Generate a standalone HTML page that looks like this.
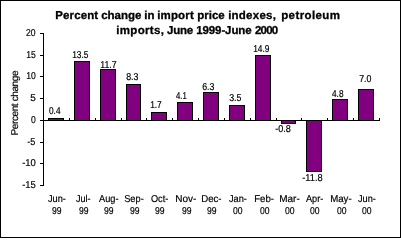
<!DOCTYPE html>
<html><head><meta charset="utf-8"><style>
html,body{margin:0;padding:0;background:#fff;width:401px;height:238px;overflow:hidden}
svg{display:block}
text{text-rendering:geometricPrecision;will-change:transform;font-family:"Liberation Sans",sans-serif;fill:#000}
.t{font-size:10px;stroke:#000;stroke-width:0.2px}
.ti{font-size:11.5px;font-weight:bold;stroke:#000;stroke-width:0.3px}
.ty{font-size:10px;stroke:#000;stroke-width:0.2px}
</style></head><body>
<svg width="401" height="238" viewBox="0 0 401 238" shape-rendering="crispEdges">
<rect x="0.5" y="0.5" width="400" height="237" fill="#fff" stroke="#000"/>
<rect x="48.5" y="118.5" width="15" height="2" fill="#800080" stroke="#000"/>
<rect x="74.5" y="61.5" width="15" height="59" fill="#800080" stroke="#000"/>
<rect x="100.5" y="69.5" width="15" height="51" fill="#800080" stroke="#000"/>
<rect x="126.5" y="84.5" width="14" height="36" fill="#800080" stroke="#000"/>
<rect x="151.5" y="112.5" width="15" height="8" fill="#800080" stroke="#000"/>
<rect x="177.5" y="102.5" width="15" height="18" fill="#800080" stroke="#000"/>
<rect x="203.5" y="92.5" width="15" height="28" fill="#800080" stroke="#000"/>
<rect x="229.5" y="105.5" width="15" height="15" fill="#800080" stroke="#000"/>
<rect x="255.5" y="55.5" width="15" height="65" fill="#800080" stroke="#000"/>
<rect x="281.5" y="120.5" width="14" height="3" fill="#800080" stroke="#000"/>
<rect x="306.5" y="120.5" width="15" height="51" fill="#800080" stroke="#000"/>
<rect x="332.5" y="99.5" width="15" height="21" fill="#800080" stroke="#000"/>
<rect x="358.5" y="89.5" width="15" height="31" fill="#800080" stroke="#000"/>
<path d="M43.5 33V186M40 33.5H44M40 55.5H44M40 76.5H44M40 98.5H44M40 120.5H379.5M40 142.5H44M40 163.5H44M40 185.5H44" stroke="#000" fill="none"/>
<path d="M69.5 118V120M95.5 118V120M121.5 118V120M146.5 118V120M172.5 118V120M198.5 118V120M224.5 118V120M250.5 118V120M276.5 118V120M301.5 118V120M327.5 118V120M353.5 118V120M379.5 118V120" stroke="#000" fill="none"/>
<text id="t1_0" x="55.20" y="19.00" class="ti" textLength="42.99" lengthAdjust="spacing">Percent</text>
<text id="t1_1" x="101.20" y="19.00" class="ti" textLength="40.27" lengthAdjust="spacing">change</text>
<text id="t1_2" x="144.20" y="19.00" class="ti" textLength="10.23" lengthAdjust="spacing">in</text>
<text id="t1_3" x="157.20" y="19.00" class="ti" textLength="36.58" lengthAdjust="spacing">import</text>
<text id="t1_4" x="197.20" y="19.00" class="ti" textLength="27.50" lengthAdjust="spacing">price</text>
<text id="t1_5" x="228.20" y="19.00" class="ti" textLength="47.63" lengthAdjust="spacing">indexes,</text>
<text id="t1_6" x="281.20" y="19.00" class="ti" textLength="58.79" lengthAdjust="spacing">petroleum</text>
<text id="t2_0" x="116.20" y="34.00" class="ti" textLength="47.77" lengthAdjust="spacing">imports,</text>
<text id="t2_1" x="167.00" y="34.00" class="ti" textLength="26.04" lengthAdjust="spacing">June</text>
<text id="t2_2" x="196.20" y="34.00" class="ti" textLength="55.47" lengthAdjust="spacing">1999-June</text>
<text id="t2_3" x="255.00" y="34.00" class="ti" textLength="23.19" lengthAdjust="spacing">2000</text>
<text id="y20" x="26.00" y="36.00" class="t" textLength="9.53" lengthAdjust="spacingAndGlyphs">20</text>
<text id="y15" x="26.20" y="58.00" class="t" textLength="9.53" lengthAdjust="spacingAndGlyphs">15</text>
<text id="y10" x="26.20" y="79.00" class="t" textLength="9.53" lengthAdjust="spacingAndGlyphs">10</text>
<text id="y5" x="30.20" y="101.00" class="t" textLength="5.56" lengthAdjust="spacingAndGlyphs">5</text>
<text id="y0" x="31.00" y="123.00" class="t" textLength="4.76" lengthAdjust="spacingAndGlyphs">0</text>
<text id="y-5" x="27.20" y="145.00" class="t" textLength="8.11" lengthAdjust="spacingAndGlyphs">-5</text>
<text id="y-10" x="22.20" y="166.00" class="t" textLength="13.65" lengthAdjust="spacingAndGlyphs">-10</text>
<text id="y-15" x="22.20" y="188.00" class="t" textLength="13.65" lengthAdjust="spacingAndGlyphs">-15</text>
<text id="d0.4" x="49.00" y="114.00" class="t" textLength="11.51" lengthAdjust="spacingAndGlyphs">0.4</text>
<text id="d13.5" x="72.20" y="58.00" class="t" textLength="16.27" lengthAdjust="spacingAndGlyphs">13.5</text>
<text id="d11.7" x="100.20" y="68.00" class="t" textLength="16.33" lengthAdjust="spacingAndGlyphs">11.7</text>
<text id="d8.3" x="126.20" y="80.00" class="t" textLength="12.31" lengthAdjust="spacingAndGlyphs">8.3</text>
<text id="d1.7" x="150.20" y="108.00" class="t" textLength="11.51" lengthAdjust="spacingAndGlyphs">1.7</text>
<text id="d4.1" x="176.00" y="99.00" class="t" textLength="10.71" lengthAdjust="spacingAndGlyphs">4.1</text>
<text id="d6.3" x="202.20" y="90.00" class="t" textLength="12.31" lengthAdjust="spacingAndGlyphs">6.3</text>
<text id="d3.5" x="229.20" y="101.00" class="t" textLength="12.31" lengthAdjust="spacingAndGlyphs">3.5</text>
<text id="d14.9" x="253.20" y="52.00" class="t" textLength="16.27" lengthAdjust="spacingAndGlyphs">14.9</text>
<text id="d-0.8" x="275.20" y="132.00" class="t" textLength="15.63" lengthAdjust="spacingAndGlyphs">-0.8</text>
<text id="d-11.8" x="302.20" y="181.00" class="t" textLength="20.46" lengthAdjust="spacingAndGlyphs">-11.8</text>
<text id="d4.8" x="332.00" y="97.00" class="t" textLength="11.51" lengthAdjust="spacingAndGlyphs">4.8</text>
<text id="d7.0" x="359.20" y="82.00" class="t" textLength="12.31" lengthAdjust="spacingAndGlyphs">7.0</text>
<text id="c1_0" x="48.00" y="202.00" class="t" textLength="17.85" lengthAdjust="spacingAndGlyphs">Jun-</text>
<text id="c2_0" x="52.00" y="214.00" class="t" textLength="9.53" lengthAdjust="spacingAndGlyphs">99</text>
<text id="c1_1" x="76.00" y="202.00" class="t" textLength="14.53" lengthAdjust="spacingAndGlyphs">Jul-</text>
<text id="c2_1" x="79.00" y="214.00" class="t" textLength="9.53" lengthAdjust="spacingAndGlyphs">99</text>
<text id="c1_2" x="99.00" y="202.00" class="t" textLength="19.52" lengthAdjust="spacingAndGlyphs">Aug-</text>
<text id="c2_2" x="104.00" y="214.00" class="t" textLength="9.53" lengthAdjust="spacingAndGlyphs">99</text>
<text id="c1_3" x="124.20" y="202.00" class="t" textLength="19.52" lengthAdjust="spacingAndGlyphs">Sep-</text>
<text id="c2_3" x="130.00" y="214.00" class="t" textLength="9.53" lengthAdjust="spacingAndGlyphs">99</text>
<text id="c1_4" x="151.00" y="202.00" class="t" textLength="17.29" lengthAdjust="spacingAndGlyphs">Oct-</text>
<text id="c2_4" x="155.00" y="214.00" class="t" textLength="9.53" lengthAdjust="spacingAndGlyphs">99</text>
<text id="c1_5" x="175.20" y="202.00" class="t" textLength="21.12" lengthAdjust="spacingAndGlyphs">Nov-</text>
<text id="c2_5" x="182.00" y="214.00" class="t" textLength="9.53" lengthAdjust="spacingAndGlyphs">99</text>
<text id="c1_6" x="201.20" y="202.00" class="t" textLength="20.32" lengthAdjust="spacingAndGlyphs">Dec-</text>
<text id="c2_6" x="207.00" y="214.00" class="t" textLength="9.53" lengthAdjust="spacingAndGlyphs">99</text>
<text id="c1_7" x="229.00" y="202.00" class="t" textLength="17.85" lengthAdjust="spacingAndGlyphs">Jan-</text>
<text id="c2_7" x="233.00" y="214.00" class="t" textLength="9.53" lengthAdjust="spacingAndGlyphs">00</text>
<text id="c1_8" x="254.20" y="202.00" class="t" textLength="19.76" lengthAdjust="spacingAndGlyphs">Feb-</text>
<text id="c2_8" x="260.00" y="214.00" class="t" textLength="9.53" lengthAdjust="spacingAndGlyphs">00</text>
<text id="c1_9" x="279.20" y="202.00" class="t" textLength="20.56" lengthAdjust="spacingAndGlyphs">Mar-</text>
<text id="c2_9" x="285.00" y="214.00" class="t" textLength="9.53" lengthAdjust="spacingAndGlyphs">00</text>
<text id="c1_10" x="306.00" y="202.00" class="t" textLength="17.31" lengthAdjust="spacingAndGlyphs">Apr-</text>
<text id="c2_10" x="310.00" y="214.00" class="t" textLength="9.53" lengthAdjust="spacingAndGlyphs">00</text>
<text id="c1_11" x="330.20" y="202.00" class="t" textLength="21.43" lengthAdjust="spacingAndGlyphs">May-</text>
<text id="c2_11" x="337.00" y="214.00" class="t" textLength="9.53" lengthAdjust="spacingAndGlyphs">00</text>
<text id="c1_12" x="358.00" y="202.00" class="t" textLength="17.85" lengthAdjust="spacingAndGlyphs">Jun-</text>
<text id="c2_12" x="362.00" y="214.00" class="t" textLength="9.53" lengthAdjust="spacingAndGlyphs">00</text>
<text id="ytitle" transform="translate(18.00 103.00) rotate(-90)" text-anchor="middle" class="ty" textLength="65.00" lengthAdjust="spacing">Percent change</text>
</svg>
</body></html>
